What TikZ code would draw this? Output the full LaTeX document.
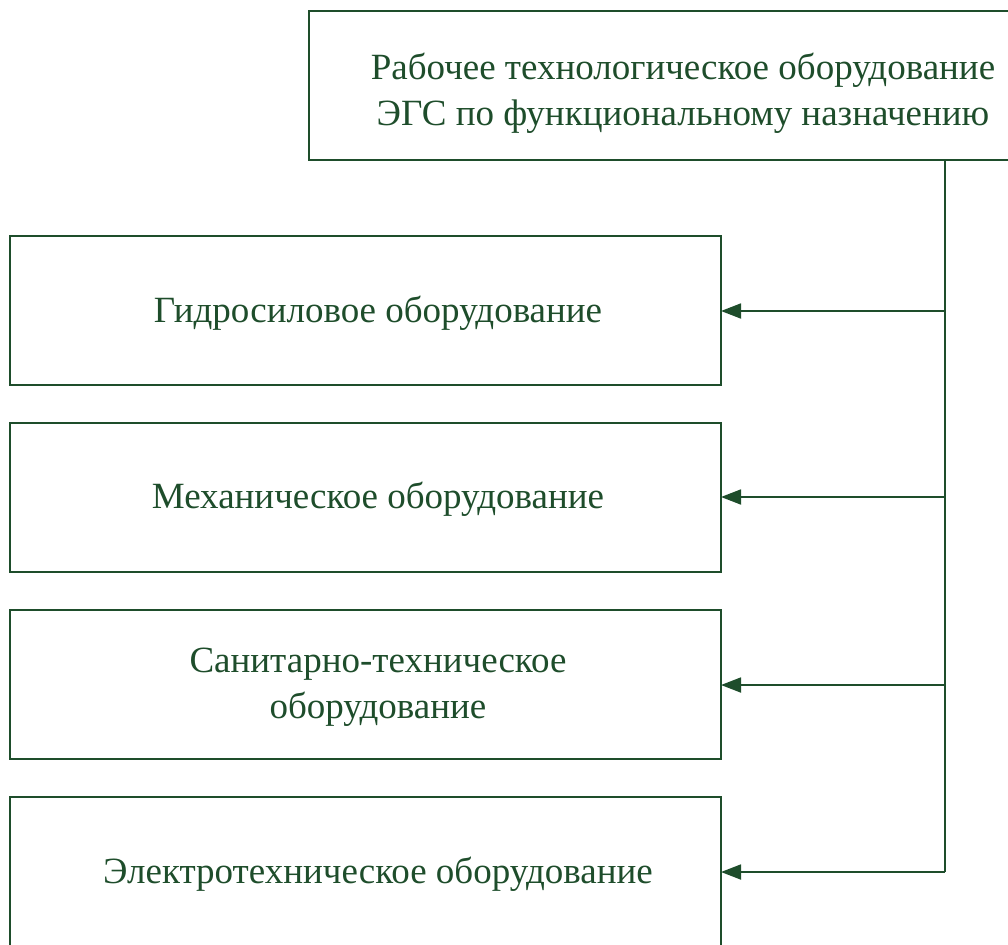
\documentclass[tikz,border=0pt]{standalone}
\usepackage{fontspec}
\setmainfont{Liberation Serif}
\usetikzlibrary{arrows.meta}
\definecolor{dg}{HTML}{1E4D2B}
\begin{document}
\begin{tikzpicture}[x=1pt,y=1pt,
  box/.style={draw=dg,line width=1.8pt,inner sep=0pt},
  lbl/.style={text=dg,font=\fontsize{37}{45.5}\selectfont,align=center},
  bus/.style={draw=dg,line width=2pt},
  conn/.style={draw=dg,line width=1.8pt,-{Triangle[length=20pt,width=15pt]}}]
\useasboundingbox (0,0) rectangle (1008,-944);
\clip (0,0) rectangle (1008,-944);
\draw[box] (309,-11) rectangle (1060,-160);
\node[lbl] (top) at (683,-93.5) {Рабочее технологическое оборудование\\ЭГС по функциональному назначению};
\coordinate (bus) at (945,-160);
\draw[box] (10,-236) rectangle (721,-385);
\draw[box] (10,-423) rectangle (721,-572);
\draw[box] (10,-610) rectangle (721,-759);
\draw[box] (10,-797) rectangle (721,-960);
\coordinate (b1) at (721,-311);
\coordinate (b2) at (721,-497);
\coordinate (b3) at (721,-685);
\coordinate (b4) at (721,-872);
\node[lbl] (t1) at (378,-313) {Гидросиловое оборудование};
\node[lbl] (t2) at (378,-499) {Механическое оборудование};
\node[lbl] (t3) at (378,-687) {Санитарно-техническое\\оборудование};
\node[lbl] (t4) at (378,-874) {Электротехническое оборудование};
\draw[bus] (bus) -- (bus |- b4);
\draw[conn] (bus |- b1) -- (b1);
\draw[conn] (bus |- b2) -- (b2);
\draw[conn] (bus |- b3) -- (b3);
\draw[conn] (bus |- b4) -- (b4);
\end{tikzpicture}
\end{document}
